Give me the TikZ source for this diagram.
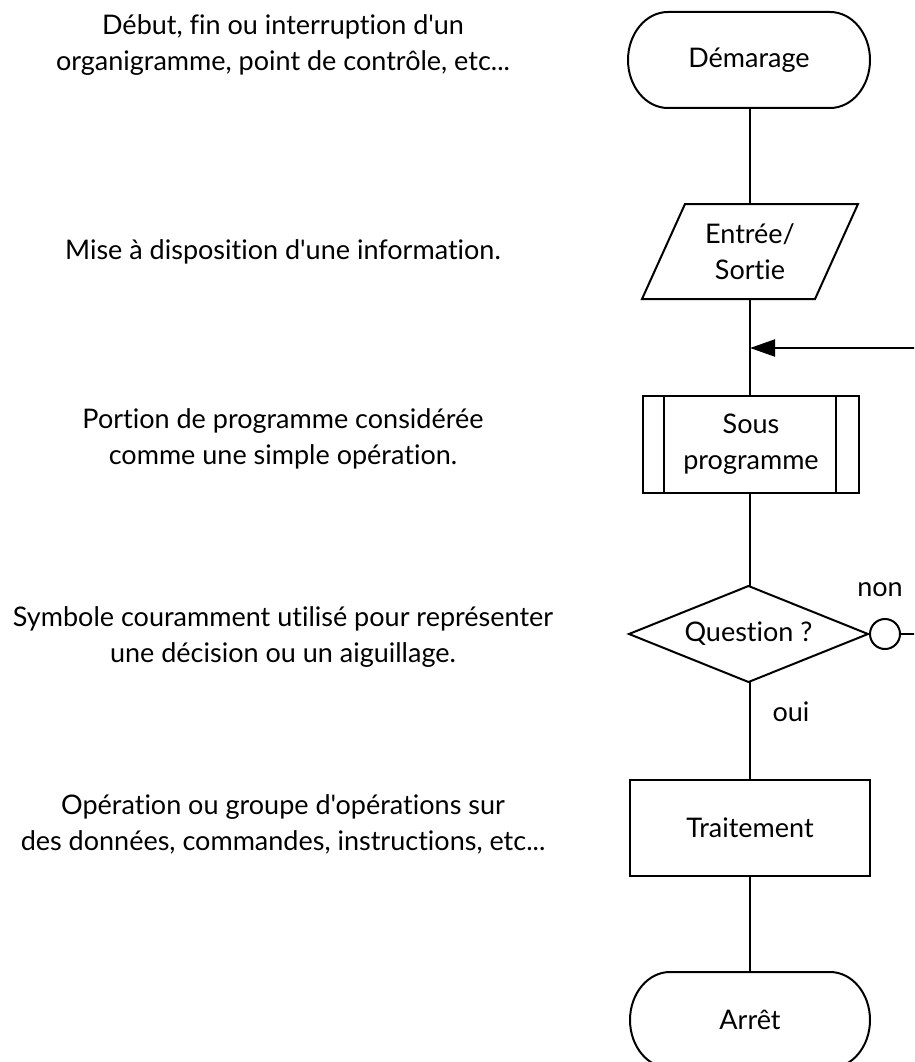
\documentclass[tikz,border=0pt]{standalone}
\usepackage{fontspec}
\setmainfont{Lato}[Ligatures={NoCommon,TeXOff}]
\usetikzlibrary{arrows.meta}
\begin{document}
\begin{tikzpicture}[x=1pt,y=-1pt,
  every node/.style={font=\fontsize{27}{36}\selectfont, inner sep=0pt, outer sep=0pt, align=center},
  shp/.style={line width=2pt, line join=miter},
  conn/.style={line width=2pt}]
\useasboundingbox (0,0) rectangle (914,1062);
\clip (0,0) rectangle (914,1062);
% left descriptions
\node (d1) at (283,45) {Début, fin ou interruption d'un\\organigramme, point de contrôle, etc...};
\node (d2) at (283,252) {Mise à disposition d'une information.};
\node (d3) at (283,439) {Portion de programme considérée\\comme une simple opération.};
\node (d4) at (283,637) {Symbole couramment utilisé pour représenter\\une décision ou un aiguillage.};
\node (d5) at (283,824) {Opération ou groupe d'opérations sur\\des données, commandes, instructions, etc...};
% flowchart nodes
\node[minimum width=242pt, minimum height=96pt] (dem) at (749,60) {Démarage};
\draw[shp] ([xshift=40pt]dem.north west) -- ([xshift=-40pt]dem.north east)
  arc[start angle=-90, end angle=90, x radius=40, y radius=48]
  -- ([xshift=40pt]dem.south west)
  arc[start angle=90, end angle=270, x radius=40, y radius=48] -- cycle;
\node[minimum width=173pt, minimum height=95pt] (es) at (750,251.5) {Entrée/\\Sortie};
\draw[shp] ([xshift=21.5pt]es.north west) -- ([xshift=21.5pt]es.north east) -- ([xshift=-21.5pt]es.south east) -- ([xshift=-21.5pt]es.south west) -- cycle;
\node[shp, draw, minimum width=216pt, minimum height=97pt] (sp) at (751,444.5) {Sous\\programme};
\draw[shp] ([xshift=21pt]sp.north west) -- ([xshift=21pt]sp.south west);
\draw[shp] ([xshift=-23pt]sp.north east) -- ([xshift=-23pt]sp.south east);
\node[minimum width=239pt, minimum height=96pt] (q) at (748.5,634) {Question ?};
\draw[shp] (q.north) -- (q.east) -- (q.south) -- (q.west) -- cycle;
\node[shp, draw, circle, minimum size=30pt] (c) at (885,634) {};
\node[shp, draw, minimum width=240pt, minimum height=96pt] (tr) at (750,828) {Traitement};
\node[minimum width=240pt, minimum height=96pt] (ar) at (750,1020) {Arrêt};
\draw[shp] ([xshift=40pt]ar.north west) -- ([xshift=-40pt]ar.north east)
  arc[start angle=-90, end angle=90, x radius=40, y radius=48]
  -- ([xshift=40pt]ar.south west)
  arc[start angle=90, end angle=270, x radius=40, y radius=48] -- cycle;
% labels
\node (non) at (880,590) {non};
\node (oui) at (791,712) {oui};
% coordinates
\coordinate (m) at (750,348);
\coordinate (rin) at (916,348);
\coordinate (rout) at (916,634);
% connectors
\draw[conn] (dem.south -| m) -- (es.north -| m);
\draw[conn] (es.south -| m) -- (sp.north -| m);
\draw[conn] (sp.south -| m) -- (q.north -| m);
\draw[conn] (q.south -| m) -- (tr.north -| m);
\draw[conn] (tr.south -| m) -- (ar.north -| m);
\draw[conn] (q.east) -- (c.west);
\draw[conn] (c.east) -- (rout);
\draw[conn, -{Triangle[length=25pt,width=17pt]}] (rin) -- (m);
\end{tikzpicture}
\end{document}
